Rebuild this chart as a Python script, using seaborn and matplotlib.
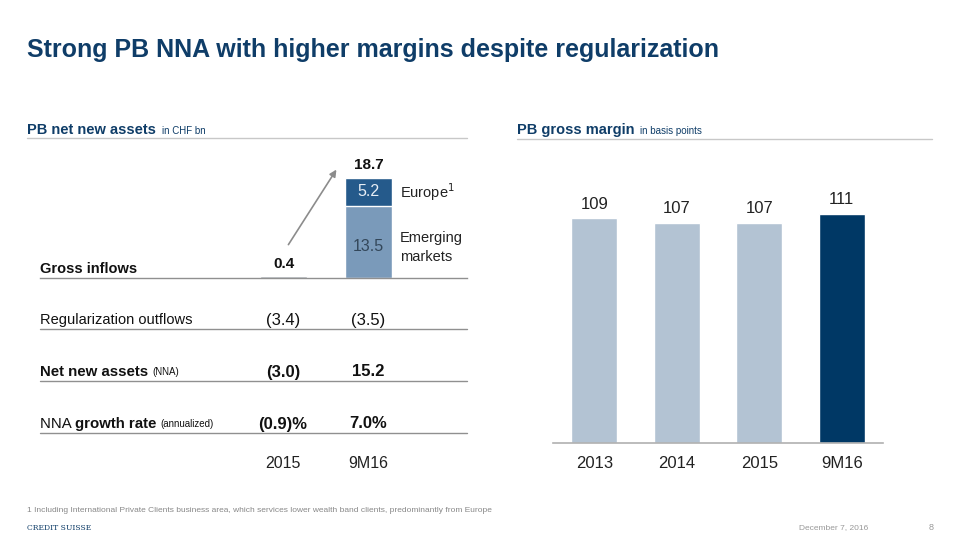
import matplotlib
matplotlib.use("Agg")
import matplotlib.pyplot as plt
import seaborn as sns
import numpy as np

sns.set_style("white")
plt.rcParams["font.family"] = ["Liberation Sans", "DejaVu Sans"]

# data
nna_periods = ["2015", "9M16"]
gross_total = [0.4, 18.7]
gross_em = [0.0, 13.5]
gross_europe = [0.0, 5.2]
reg_outflows = ["(3.4)", "(3.5)"]
nna_values = ["(3.0)", "15.2"]
nna_growth = ["(0.9)%", "7.0%"]

margin_periods = ["2013", "2014", "2015", "9M16"]
margin_bps = [109, 107, 107, 111]

TITLE_BLUE = "#0f3d68"
W, H = 960, 540


def fx(x):
    return x / W


def fy(y):
    return 1 - y / H


fig = plt.figure(figsize=(9.6, 5.4), dpi=100)

fig.text(fx(27), fy(50), "Strong PB NNA with higher margins despite regularization",
         fontsize=18, fontweight="bold", color=TITLE_BLUE, va="center")

# section headers
fig.text(fx(27), fy(130), "PB net new assets", fontsize=10.5, fontweight="bold",
         color=TITLE_BLUE, va="center")
fig.text(fx(162), fy(131), "in CHF bn", fontsize=7, color=TITLE_BLUE, va="center")
fig.add_artist(plt.Line2D([fx(27), fx(467)], [fy(138), fy(138)], color="#c8c8c8", lw=1))

fig.text(fx(517), fy(130), "PB gross margin", fontsize=10.5, fontweight="bold",
         color=TITLE_BLUE, va="center")
fig.text(fx(640), fy(131), "in basis points", fontsize=7, color=TITLE_BLUE, va="center")
fig.add_artist(plt.Line2D([fx(517), fx(932)], [fy(139), fy(139)], color="#c8c8c8", lw=1))

# ---- left: gross inflows ----
ax1 = fig.add_axes([fx(40), fy(278), 427 / W, 24 * 5.35 / H])
sns.barplot(x=nna_periods, y=gross_total, hue=nna_periods,
            palette=["#8a9299", "#255a8b"], legend=False, width=0.55,
            saturation=1, ax=ax1)
sns.barplot(x=nna_periods, y=gross_em, hue=nna_periods,
            palette=["#8a9299", "#7a9aba"], legend=False, width=0.55,
            saturation=1, ax=ax1)
ax1.set_xlim(-2.865, 2.159)
ax1.set_ylim(0, 24)
ax1.set_xlabel("")
ax1.set_ylabel("")
ax1.set_xticks([])
ax1.set_yticks([])
for s in ["top", "left", "right"]:
    ax1.spines[s].set_visible(False)
ax1.spines["bottom"].set_color("#909090")
ax1.spines["bottom"].set_linewidth(1)

ax1.text(0, gross_total[0] + 0.9, f"{gross_total[0]}", ha="center", va="bottom",
         fontsize=11, fontweight="bold", color="#111111")
ax1.text(1, gross_total[1] + 1.2, f"{gross_total[1]}", ha="center", va="bottom",
         fontsize=11, fontweight="bold", color="#111111")
ax1.text(1, gross_em[1] + gross_europe[1] / 2, f"{gross_europe[1]}", ha="center",
         va="center", fontsize=11.5, color="#e8eef5")
ax1.text(1, 5.8, f"{gross_em[1]}", ha="center", va="center",
         fontsize=11.5, color="#33475a")
ax1.text(1.37, gross_em[1] + gross_europe[1] / 2, "Europe$^1$", ha="left",
         va="center", fontsize=10.5, color="#222222")
ax1.text(1.37, 5.7, "Emerging\nmarkets", ha="left", va="center",
         fontsize=10.5, color="#222222", linespacing=1.45)
ax1.annotate("", xy=(0.64, 20.7), xytext=(0.04, 5.8),
             arrowprops=dict(arrowstyle="-|>", color="#8c8c8c", lw=1.2,
                             mutation_scale=10))
ax1.text(-2.865, 1.7, "Gross inflows", ha="left", va="center", fontsize=10.5,
         fontweight="bold", color="#111111")

# ---- left: table rows ----
col_x = [283, 368]
rows = [
    (320, 329, [("Regularization outflows", "normal", 10.5)], reg_outflows, "normal"),
    (372, 381, [("Net new assets ", "bold", 10.8), ("(NNA)", "normal", 7)],
     nna_values, "bold"),
    (424, 433, [("NNA ", "normal", 10.8), ("growth rate ", "bold", 10.8),
                ("(annualized)", "normal", 7)], nna_growth, "bold"),
]
renderer = fig.canvas.get_renderer()
for ty, ly, parts, vals, weight in rows:
    x = 40
    for txt, w, size in parts:
        t = fig.text(fx(x), fy(ty), txt, fontsize=size, fontweight=w,
                     color="#111111", va="center")
        bb = t.get_window_extent(renderer=renderer)
        x += bb.width
    for cx, v in zip(col_x, vals):
        fig.text(fx(cx), fy(ty), v, fontsize=12, fontweight=weight,
                 color="#111111", ha="center", va="center")
    fig.add_artist(plt.Line2D([fx(40), fx(467)], [fy(ly), fy(ly)],
                              color="#909090", lw=1))
for cx, p in zip(col_x, nna_periods):
    fig.text(fx(cx), fy(464), p, fontsize=11.5, color="#222222",
             ha="center", va="center")

# ---- right: gross margin ----
ax2 = fig.add_axes([fx(553), fy(443), 330 / W, 130 * 2.06 / H])
sns.barplot(x=margin_periods, y=margin_bps, hue=margin_periods,
            palette=["#b3c3d3", "#b3c3d3", "#b3c3d3", "#003865"], legend=False,
            width=0.556, saturation=1, ax=ax2)
ax2.set_xlim(-0.5, 3.5)
ax2.set_ylim(0, 130)
ax2.set_xlabel("")
ax2.set_ylabel("")
ax2.set_yticks([])
ax2.tick_params(axis="x", length=0, pad=9, labelsize=12, labelcolor="#222222")
for s in ["top", "left", "right"]:
    ax2.spines[s].set_visible(False)
ax2.spines["bottom"].set_color("#b0b0b0")
ax2.spines["bottom"].set_linewidth(1.2)
for c in ax2.containers:
    ax2.bar_label(c, padding=5, fontsize=12, color="#222222")

# footer
fig.text(fx(27), fy(511), "1 Including International Private Clients business area, "
         "which services lower wealth band clients, predominantly from Europe",
         fontsize=6, color="#888888", va="center")
fig.text(fx(27), fy(528), "CREDIT SUISSE", fontsize=5.5, color=TITLE_BLUE,
         family="DejaVu Serif", va="center")
fig.text(fx(868), fy(528), "December 7, 2016", fontsize=6, color="#999999",
         ha="right", va="center")
fig.text(fx(934), fy(528), "8", fontsize=6.5, color="#999999", ha="right",
         va="center")

fig.savefig("out.png", dpi=100)
